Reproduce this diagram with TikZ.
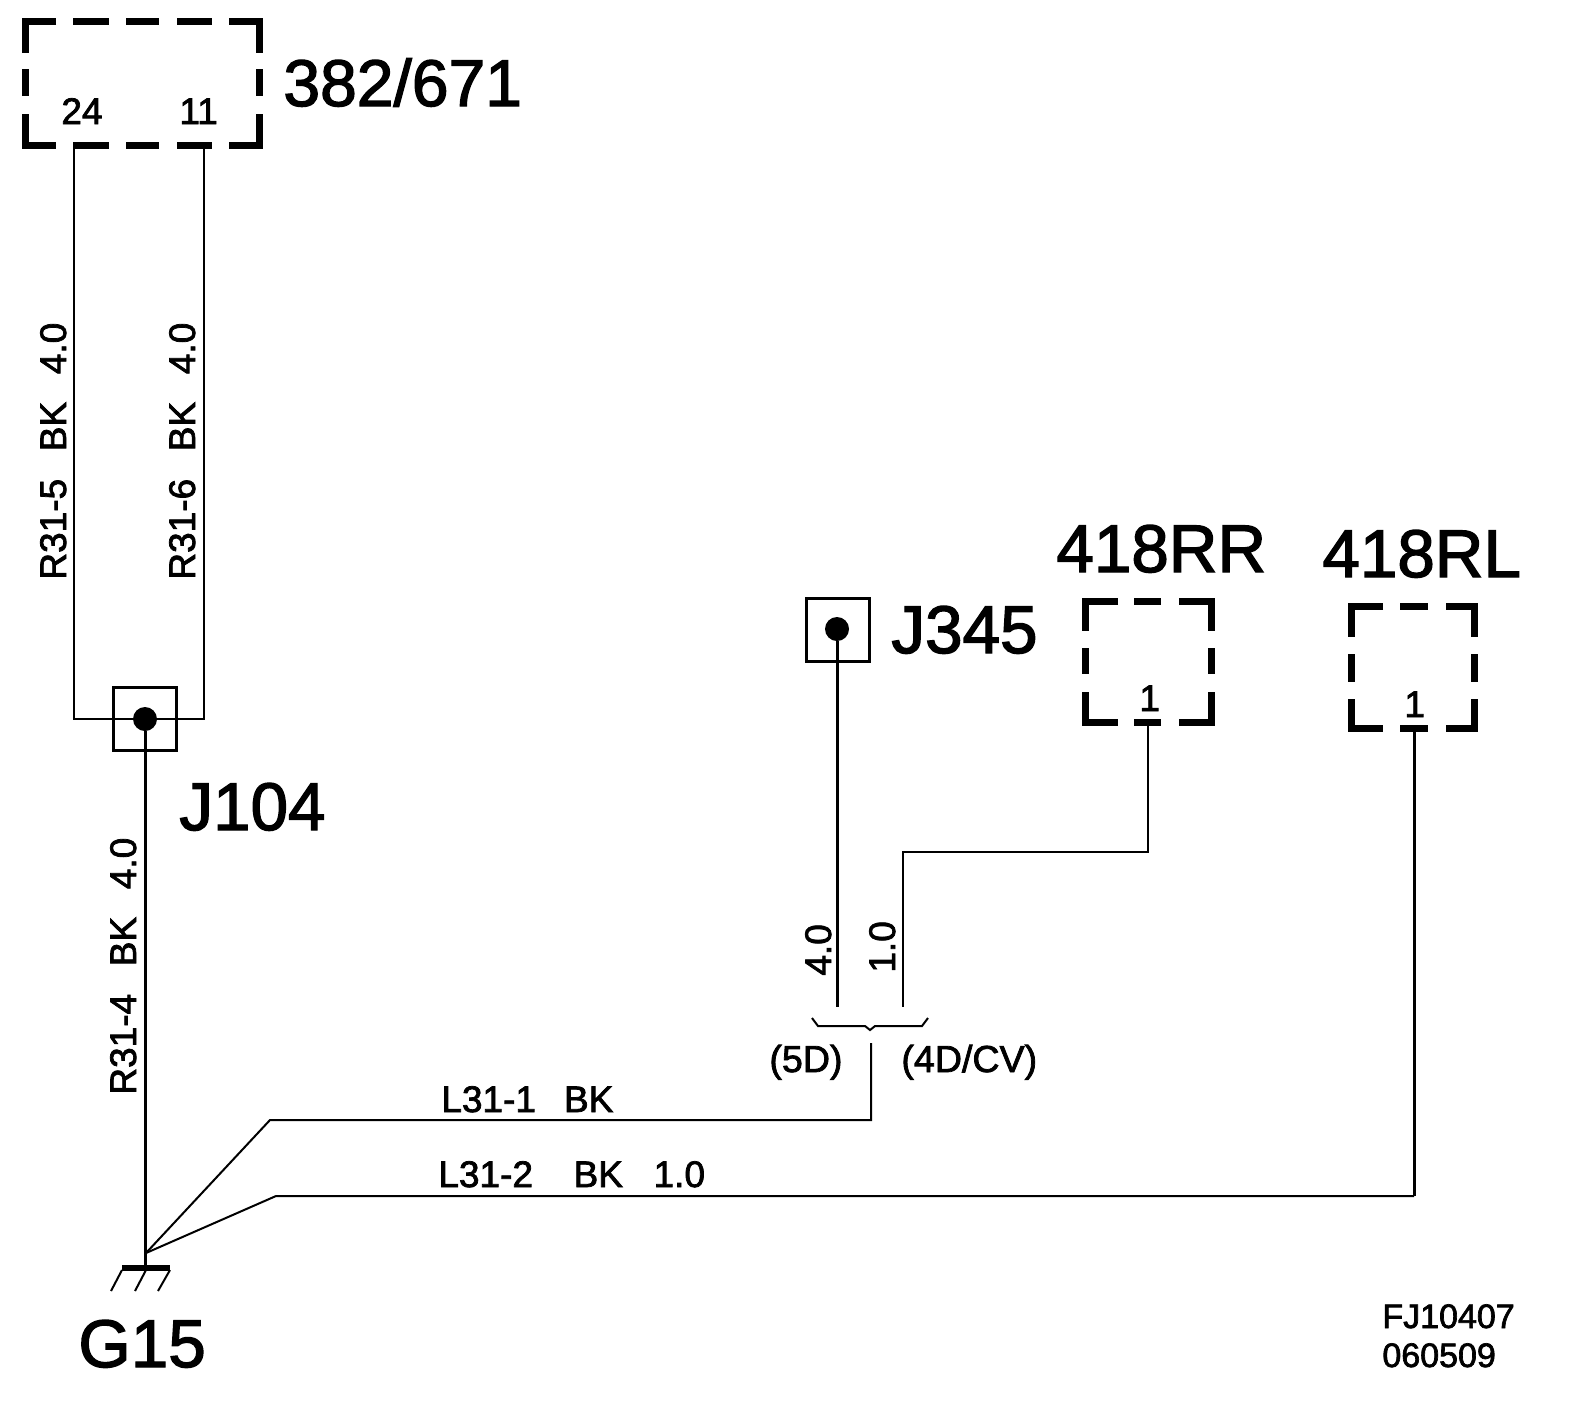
\documentclass[tikz,border=0pt]{standalone}
\usepackage{fontspec}
\setmainfont{Liberation Sans}[FakeBold=2]
\tikzset{
  big/.style={anchor=base west,inner sep=0pt,font=\fontsize{33.7}{33.7}\selectfont},
  small/.style={anchor=base west,inner sep=0pt,font=\fontsize{18.5}{18.5}\selectfont},
  code/.style={anchor=base west,inner sep=0pt,font=\fontsize{17}{17}\selectfont},
  vert/.style={small,rotate=90},
  wire/.style={line width=1pt,line join=miter},
  fatwire/.style={line width=1.5pt,line join=miter},
  dashpart/.style={line width=3.5pt,line join=miter},
  splice/.style={draw,line width=1.5pt,fill=none,minimum size=31.5pt,inner sep=0pt},
  spot/.style={circle,fill=black,minimum size=12pt,inner sep=0pt},
}
\begin{document}
\begin{tikzpicture}[x=0.5pt,y=-0.5pt]
\useasboundingbox (0,0) rectangle (1584,1404);
% connector 382/671
\draw[dashpart] (56,21)--(25.5,21)--(25.5,53) (73,21)--(109,21) (126,21)--(159,21) (177,21)--(212,21) (229,21)--(259.5,21)--(259.5,53)
  (25.5,69)--(25.5,96) (259.5,69)--(259.5,96)
  (25.5,114)--(25.5,145.5)--(56,145.5) (73,145.5)--(109,145.5) (126,145.5)--(159,145.5) (177,145.5)--(212,145.5) (229,145.5)--(259.5,145.5)--(259.5,114);
\coordinate (p24) at (74,147);
\coordinate (p11) at (204,147);
\node[small] (t24) at (61,124) {24};
\node[small] (t11) at (179,124) {11};
\node[big,font=\fontsize{33}{33}\selectfont] (t382) at (283,106) {382/671};
% J104
\node[splice] (j104) at (145,719) {};
\node[spot] (j104d) at (145,719) {};
\node[big] (tj104) at (179,830) {J104};
\draw[wire] (p24)--(p24|-j104d)--(j104d);
\draw[wire] (p11)--(p11|-j104d)--(j104d);
\node[vert] (r5) at (66,580) {R31-5 \hspace{.47em}BK \hspace{.47em}4.0};
\node[vert] (r6) at (195,580) {R31-6 \hspace{.47em}BK \hspace{.47em}4.0};
\node[vert] (r4) at (136,1095) {R31-4 \hspace{.47em}BK \hspace{.47em}4.0};
% ground
\coordinate (gnd) at (145,1268);
\coordinate (fan) at (146,1253);
\coordinate (kneeA) at (270,1120);
\coordinate (kneeB) at (276,1196);
\draw[fatwire] (j104d)--(gnd);
\draw[line width=3pt] (122,1268)--(170,1268);
\draw[wire] (122,1270)--(111,1291) (146,1270)--(135,1291) (170,1270)--(158,1291);
\node[big] (g15) at (78,1367) {G15};
% J345
\node[splice] (j345) at (838,629.5) {};
\node[spot] (j345d) at (837,629) {};
\node[big] (tj345) at (891,653) {J345};
\coordinate (e40) at (837,1007);
\coordinate (e10) at (903,1007);
\draw[fatwire] (j345d)--(e40);
\node[vert] (t40) at (831,976) {4.0};
\node[vert] (t10) at (895,973) {1.0};
% brace
\draw[wire] (812,1018)--(818,1026)--(865,1026)--(870,1030)--(875,1026)--(922,1026)--(928,1018);
\node[small,font=\fontsize{18.8}{18.8}\selectfont] (t5d) at (769,1072) {(5D)};
\node[small,font=\fontsize{18.8}{18.8}\selectfont] (t4d) at (901,1072) {(4D/CV)};
\coordinate (b0) at (871,1043);
\draw[wire] (b0)--(871,1120)--(kneeA)--(fan);
\node[small] (l1) at (441,1112) {L31-1 \hspace{.48em}BK};
\node[small] (l2) at (438,1187) {L31-2 \hspace{.82em}BK \hspace{.55em}1.0};
% 418RR
\draw[dashpart] (1118,601.5)--(1085.5,601.5)--(1085.5,631) (1134,601.5)--(1161,601.5) (1179,601.5)--(1211.5,601.5)--(1211.5,631)
  (1085.5,648)--(1085.5,674) (1211.5,648)--(1211.5,674)
  (1085.5,692)--(1085.5,722.5)--(1118,722.5) (1134,722.5)--(1161,722.5) (1179,722.5)--(1211.5,722.5)--(1211.5,692);
\coordinate (prr) at (1148,726);
\node[small] (t1r) at (1139,711) {1};
\node[big] (t418r) at (1056,572) {418RR};
\draw[wire] (prr)--(1148,852)--(903,852)--(e10);
% 418RL
\draw[dashpart] (1383,606.5)--(1351.5,606.5)--(1351.5,637) (1400,606.5)--(1428,606.5) (1446,606.5)--(1474.5,606.5)--(1474.5,637)
  (1351.5,654)--(1351.5,682) (1474.5,654)--(1474.5,682)
  (1351.5,699)--(1351.5,728.5)--(1383,728.5) (1400,728.5)--(1428,728.5) (1446,728.5)--(1474.5,728.5)--(1474.5,699);
\coordinate (prl) at (1414,732);
\node[small] (t1l) at (1404,717) {1};
\node[big] (t418l) at (1322,577) {418RL};
\draw[fatwire] (prl)--(prl|-kneeB);
\draw[wire] (prl|-kneeB)--(kneeB)--(fan);
\node[code] (c1) at (1382,1328) {FJ10407};
\node[code] (c2) at (1382,1367) {060509};
\end{tikzpicture}
\end{document}
